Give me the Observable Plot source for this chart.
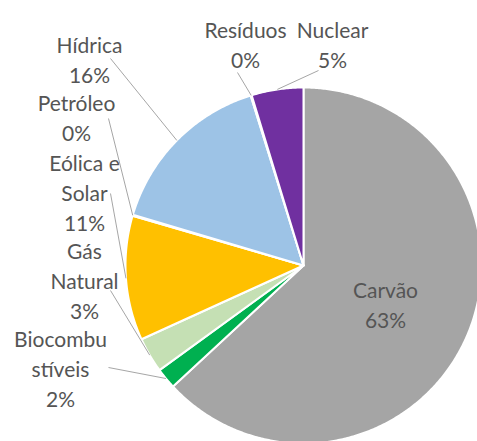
<!DOCTYPE html>
<html><head><meta charset="utf-8">
<script src="https://cdn.jsdelivr.net/npm/d3@7"></script>
<script src="https://cdn.jsdelivr.net/npm/@observablehq/plot@0.6"></script>
<style>body{margin:0;background:#fff}</style>
</head><body><div id="chart"></div>
<script>
// ---- data ----
const categories = ["Carvão","Biocombustíveis","Gás Natural","Eólica e Solar","Petróleo","Hídrica","Resíduos","Nuclear"];
const shares = [63.1, 1.9, 3.2, 11.3, 0.1, 15.6, 0.1, 4.7];
const labelNames = ["Carvão","Biocombu\nstíveis","Gás\nNatural","Eólica e\nSolar","Petróleo","Hídrica","Resíduos","Nuclear"];
const colors = ["#A5A5A5","#00B050","#C5E0B4","#FFC000","#FFFFFF","#9DC3E6","#FFFFFF","#7030A0"];

// ---- layout (pixels) ----
const W = 477, H = 441, CX = 303, CY = 265, R = 178;
const labelPos = [[385,303],[60,367],[84,279],[84,191],[76,116],[89,58],[245,43],[332,43]];
const leaderStart = [null,[108,367],[110,290],[110,193],[108,118],[110,58],[237,72],[318,70]];

const ux = px => (px - CX) / R;
const uy = py => (CY - py) / R;

const total = d3.sum(shares);
let acc = 0;
const slices = categories.map((c, i) => {
  const a0 = acc / total * 2 * Math.PI; acc += shares[i];
  const a1 = acc / total * 2 * Math.PI;
  return {c, a0, a1, mid: (a0 + a1) / 2, color: colors[i], i};
});
function arcPoints(s) {
  const pts = [{x: 0, y: 0}];
  const n = Math.max(2, Math.ceil((s.a1 - s.a0) / (Math.PI / 360)));
  for (let k = 0; k <= n; k++) {
    const a = s.a0 + (s.a1 - s.a0) * k / n;
    pts.push({x: Math.sin(a), y: Math.cos(a)});
  }
  return pts;
}
const labels = slices.map(s => ({
  text: labelNames[s.i] + "\n" + Math.round(shares[s.i]) + "%",
  x: ux(labelPos[s.i][0]), y: uy(labelPos[s.i][1])
}));
const leaders = slices.filter(s => leaderStart[s.i]).map(s => ({
  x1: ux(leaderStart[s.i][0]), y1: uy(leaderStart[s.i][1]),
  x2: Math.sin(s.mid), y2: Math.cos(s.mid)
}));

const chart = Plot.plot({
  width: W, height: H,
  margin: 0,
  x: {type: "linear", domain: [-1, 1], range: [CX - R, CX + R], axis: null},
  y: {type: "linear", domain: [-1, 1], range: [CY + R, CY - R], axis: null},
  style: {fontFamily: "Lato, 'Open Sans', sans-serif", background: "#fff"},
  marks: [
    ...slices.map(s => Plot.line(arcPoints(s), {x: "x", y: "y", fill: s.color, stroke: "#fff", strokeWidth: 2, curve: "linear-closed"})),
    Plot.text(labels, {x: "x", y: "y", text: "text", fontSize: 21, lineHeight: 1.42, fill: "#555555", textAnchor: "middle", lineAnchor: "middle"}),
    Plot.link(leaders, {x1: "x1", y1: "y1", x2: "x2", y2: "y2", stroke: "#A6A6A6", strokeWidth: 1})
  ]
});
document.getElementById("chart").appendChild(chart);
</script>
</body></html>
